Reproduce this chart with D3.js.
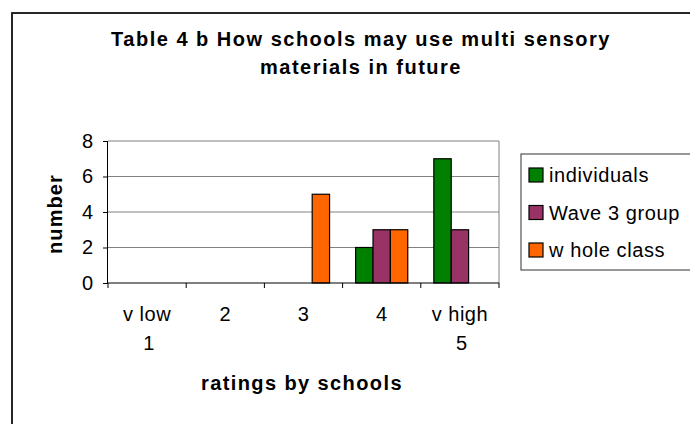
<!DOCTYPE html>
<html>
<head>
<meta charset="utf-8">
<script src="https://cdn.jsdelivr.net/npm/d3@7"></script>
<style>
  body { margin: 0; background: #fff; }
  svg text { font-family: "Liberation Sans", Arial, sans-serif; fill: #000; }
</style>
</head>
<body>
<svg id="chart"></svg>
<script>
// Data
const categories = ["v low|1", "2", "3", "4", "v high|5"];
const seriesNames = ["individuals", "Wave 3 group", "w hole class"];
const individuals = [0, 0, 0, 2, 7];
const wave3Group = [0, 0, 0, 3, 3];
const wholeClass = [0, 0, 5, 3, 0];
const yTicks = [0, 2, 4, 6, 8];
const colors = ["#008000", "#993366", "#FF6600"];

const seriesValues = [individuals, wave3Group, wholeClass];

const width = 690, height = 424;
const plot = { left: 108, right: 499, top: 141, bottom: 283 };

const svg = d3.select("#chart")
    .attr("width", width)
    .attr("height", height);

// Outer chart frame (runs off the picture on the right and bottom)
svg.append("rect")
    .attr("x", 12).attr("y", 13)
    .attr("width", 700).attr("height", 440)
    .attr("fill", "#fff")
    .attr("stroke", "#111")
    .attr("stroke-width", 1.8);

// Title
const title = svg.append("text")
    .attr("text-anchor", "middle")
    .attr("font-size", 20)
    .attr("font-weight", "bold")
    .attr("letter-spacing", 1.5);
title.append("tspan").attr("x", 361).attr("y", 46).text("Table 4 b How schools may use multi sensory");
title.append("tspan").attr("x", 361).attr("y", 74).text("materials in future");

// Scales
const x0 = d3.scaleBand()
    .domain(categories)
    .range([plot.left, plot.right])
    .paddingInner(0).paddingOuter(0);

const x1 = d3.scaleBand()
    .domain(seriesNames)
    .range([0, x0.bandwidth()])
    .paddingInner(0).paddingOuter(0.75);

const y = d3.scaleLinear()
    .domain([0, 8])
    .range([plot.bottom, plot.top]);

// Gridlines
svg.append("g")
    .selectAll("line")
    .data(yTicks.filter(t => t > 0))
    .enter().append("line")
    .attr("x1", plot.left).attr("x2", plot.right)
    .attr("y1", d => y(d)).attr("y2", d => y(d))
    .attr("stroke", "#808080")
    .attr("stroke-width", 1);

// Right border of the plot area
svg.append("line")
    .attr("x1", plot.right).attr("x2", plot.right)
    .attr("y1", plot.top).attr("y2", plot.bottom)
    .attr("stroke", "#808080");

// Bars
const rows = [];
categories.forEach((c, i) => {
    seriesNames.forEach((s, j) => {
        rows.push({ cat: c, series: s, v: seriesValues[j][i], color: colors[j] });
    });
});

svg.append("g")
    .selectAll("rect")
    .data(rows.filter(d => d.v > 0))
    .enter().append("rect")
    .attr("x", d => x0(d.cat) + x1(d.series))
    .attr("y", d => y(d.v))
    .attr("width", x1.bandwidth())
    .attr("height", d => y(0) - y(d.v))
    .attr("fill", d => d.color)
    .attr("stroke", "#000")
    .attr("stroke-width", 1.2);

// Y axis
const yAxis = d3.axisLeft(y).tickValues(yTicks).tickSize(5).tickPadding(10);
const yg = svg.append("g")
    .attr("transform", `translate(${plot.left},0)`)
    .call(yAxis);
yg.select(".domain").attr("stroke", "#000").attr("d", `M-0.5,${plot.top}V${plot.bottom}`);
yg.selectAll(".tick line").attr("stroke", "#000");
yg.selectAll(".tick text")
    .attr("font-size", 20)
    .attr("font-family", "Liberation Sans, Arial, sans-serif")
    .attr("fill", "#000");

// X axis: ticks at category boundaries
svg.append("line")
    .attr("x1", plot.left).attr("x2", plot.right)
    .attr("y1", plot.bottom).attr("y2", plot.bottom)
    .attr("stroke", "#000");

const boundaries = categories.map(c => x0(c)).concat([plot.right]);
svg.append("g")
    .selectAll("line")
    .data(boundaries)
    .enter().append("line")
    .attr("x1", d => d).attr("x2", d => d)
    .attr("y1", plot.bottom).attr("y2", plot.bottom + 5)
    .attr("stroke", "#000");

// Category labels (two lines for the end points)
const catLabels = svg.append("g")
    .selectAll("text")
    .data(categories)
    .enter().append("text")
    .attr("text-anchor", "middle")
    .attr("font-size", 20)
    .attr("letter-spacing", 0.5);
catLabels.each(function (d) {
    const cx = x0(d) + x0.bandwidth() / 2;
    d.split("|").forEach((line, k) => {
        d3.select(this).append("tspan")
            .attr("x", cx + (k > 0 ? 2 : 0))
            .attr("y", 321 + k * 29)
            .text(line);
    });
});

// Axis titles
svg.append("text")
    .attr("x", 302).attr("y", 390)
    .attr("text-anchor", "middle")
    .attr("font-size", 20)
    .attr("font-weight", "bold")
    .attr("letter-spacing", 1.4)
    .text("ratings by schools");

svg.append("text")
    .attr("transform", "translate(62,214) rotate(-90)")
    .attr("text-anchor", "middle")
    .attr("font-size", 20)
    .attr("font-weight", "bold")
    .attr("letter-spacing", 1.1)
    .text("number");

// Legend
const legend = svg.append("g");
legend.append("rect")
    .attr("x", 521).attr("y", 154)
    .attr("width", 190).attr("height", 116)
    .attr("fill", "#fff")
    .attr("stroke", "#333")
    .attr("stroke-width", 1);

const item = legend.selectAll("g.item")
    .data(seriesNames)
    .enter().append("g")
    .attr("class", "item")
    .attr("transform", (d, i) => `translate(529,${175 + i * 37.5})`);

item.append("rect")
    .attr("x", 0).attr("y", -7)
    .attr("width", 14).attr("height", 14)
    .attr("fill", (d, i) => colors[i])
    .attr("stroke", "#000")
    .attr("stroke-width", 1.2);

item.append("text")
    .attr("x", 20).attr("y", 0)
    .attr("dy", "0.35em")
    .attr("font-size", 20)
    .attr("letter-spacing", 0.6)
    .text(d => d);
</script>
</body>
</html>
